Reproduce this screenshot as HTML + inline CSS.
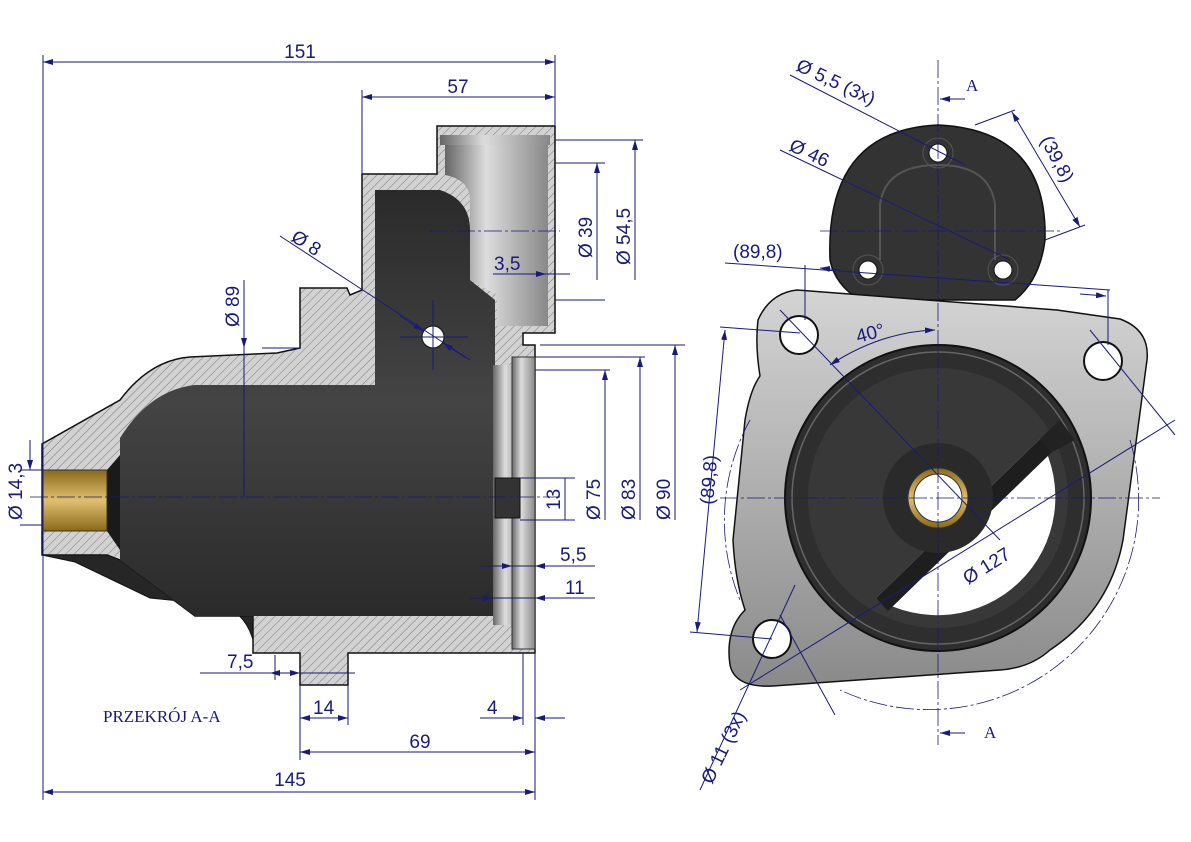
<!DOCTYPE html>
<html><head><meta charset="utf-8"><style>
html,body{margin:0;padding:0;background:#fff}
svg{display:block}
.t{font-family:"Liberation Sans",sans-serif;font-size:19px;fill:#1a1a7a}
.d{stroke:#1a1a7a;stroke-width:1;fill:none}
.c{stroke:#1a1a7a;stroke-width:0.8;fill:none;stroke-dasharray:18 3 3 3}
</style></head><body>
<svg width="1191" height="842" viewBox="0 0 1191 842" xmlns="http://www.w3.org/2000/svg">
<defs>
<pattern id="h" width="6" height="6" patternUnits="userSpaceOnUse" patternTransform="rotate(45)">
<rect width="6" height="6" fill="#d2d2d2"/><line x1="0" y1="0" x2="0" y2="6" stroke="#777" stroke-width="1"/></pattern>
<linearGradient id="dk" x1="0" y1="0" x2="0" y2="1"><stop offset="0" stop-color="#2a2a2a"/><stop offset="0.5" stop-color="#444"/><stop offset="1" stop-color="#2a2a2a"/></linearGradient>
<linearGradient id="lt" x1="0" y1="0" x2="1" y2="0"><stop offset="0" stop-color="#666"/><stop offset="0.4" stop-color="#ddd"/><stop offset="1" stop-color="#888"/></linearGradient>
<linearGradient id="br" x1="0" y1="0" x2="0" y2="1"><stop offset="0" stop-color="#8a6a1a"/><stop offset="0.5" stop-color="#e0c070"/><stop offset="1" stop-color="#8a6a1a"/></linearGradient>
<linearGradient id="pl" x1="0" y1="0" x2="0" y2="1"><stop offset="0" stop-color="#d4d4d4"/><stop offset="1" stop-color="#8a8a8a"/></linearGradient>
<marker id="a" viewBox="0 0 10 6" refX="10" refY="3" markerWidth="10" markerHeight="6" orient="auto-start-reverse"><path d="M0,0L10,3L0,6z" fill="#1a1a7a"/></marker>
</defs>

<!-- LEFT VIEW -->
<path d="M437,126 L555,126 L555,333 L523,333 L523,345 L535,345 L535,653 L348,653 L348,685 L300,685 L300,653 L253,653 L253,616 L195,616 L120,560 L107,555 L42,555 L42,444 L120,400 Q150,360 190,357 L277,353 L300,348 L300,288 L347,288 L350,295 L362,290 L362,174 L437,174 Z" fill="url(#h)" stroke="#111" stroke-width="1.5"/>
<!-- dark lower nose exterior -->
<path d="M42,555 L107,555 L120,560 L195,616 L253,616 L253,640 Q245,612 220,605 L150,598 L75,562 Z" fill="#262626" stroke="#111"/>
<!-- interior chamber -->
<path d="M120,438 Q150,390 195,385 L375,385 L375,190 L440,190 Q470,200 470,230 L470,280 L495,300 L495,385 L495,616 L195,616 L120,560 Z" fill="url(#dk)"/>
<path d="M107,470 L120,455 L120,550 L107,531Z" fill="#1a1a1a"/>
<!-- top bore light -->
<path d="M445,144 L548,144 L548,326 L497,326 L497,295 L470,280 L470,200 Q470,180 445,175Z" fill="url(#lt)"/>
<rect x="440" y="135" width="110" height="10" fill="url(#lt)"/>
<!-- front rings -->
<rect x="493" y="365" width="30" height="260" fill="url(#lt)"/>
<rect x="512" y="357" width="23" height="292" fill="url(#lt)" stroke="#333"/>
<rect x="495" y="478" width="25" height="40" fill="#333" stroke="#111"/>
<!-- bushing -->
<rect x="42" y="470" width="65" height="61" fill="url(#br)" stroke="#333"/>
<circle cx="433" cy="337" r="11" fill="#fff" stroke="#111"/>

<line x1="30" y1="497" x2="560" y2="497" class="c"/>
<line x1="430" y1="231" x2="560" y2="231" class="c"/>
<line x1="433" y1="300" x2="433" y2="370" class="d"/>
<line x1="400" y1="337" x2="468" y2="337" class="d"/>

<line x1="43" y1="55" x2="43" y2="800" class="d"/>
<line x1="555" y1="55" x2="555" y2="126" class="d"/>
<line x1="43" y1="62" x2="555" y2="62" class="d" marker-start="url(#a)" marker-end="url(#a)"/>
<text x="300" y="58" class="t" text-anchor="middle">151</text>
<line x1="362" y1="90" x2="362" y2="174" class="d"/>
<line x1="362" y1="97" x2="555" y2="97" class="d" marker-start="url(#a)" marker-end="url(#a)"/>
<text x="458" y="93" class="t" text-anchor="middle">57</text>
<line x1="555" y1="163" x2="605" y2="163" class="d"/>
<line x1="555" y1="140" x2="643" y2="140" class="d"/>
<line x1="555" y1="300" x2="605" y2="300" class="d"/>
<line x1="597" y1="163" x2="597" y2="280" class="d" marker-start="url(#a)"/>
<line x1="635" y1="140" x2="635" y2="280" class="d" marker-start="url(#a)"/>
<text transform="translate(592,258) rotate(-90)" class="t">Ø 39</text>
<text transform="translate(630,265) rotate(-90)" class="t">Ø 54,5</text>
<line x1="493" y1="274" x2="570" y2="274" class="d"/>
<line x1="525" y1="274" x2="546" y2="274" class="d" marker-end="url(#a)"/>
<text x="494" y="270" class="t">3,5</text>
<line x1="280" y1="236" x2="470" y2="360" class="d"/>
<line x1="400" y1="316" x2="423" y2="331" class="d" marker-end="url(#a)"/>
<line x1="466" y1="358" x2="443" y2="343" class="d" marker-end="url(#a)"/>
<text transform="translate(290,240) rotate(33)" class="t">Ø 8</text>
<line x1="244" y1="280" x2="244" y2="497" class="d"/>
<line x1="244" y1="325" x2="244" y2="348" class="d" marker-end="url(#a)"/>
<line x1="262" y1="348" x2="300" y2="348" class="d"/>
<text transform="translate(239,327) rotate(-90)" class="t">Ø 89</text>
<line x1="20" y1="470" x2="42" y2="470" class="d"/>
<line x1="20" y1="525" x2="42" y2="525" class="d"/>
<line x1="30" y1="440" x2="30" y2="470" class="d" marker-end="url(#a)"/>
<text transform="translate(22,520) rotate(-90)" class="t">Ø 14,3</text>
<line x1="520" y1="478" x2="575" y2="478" class="d"/><line x1="520" y1="520" x2="575" y2="520" class="d"/>
<line x1="565" y1="478" x2="565" y2="520" class="d"/>
<text transform="translate(560,510) rotate(-90)" class="t">13</text>
<line x1="535" y1="370" x2="610" y2="370" class="d"/>
<line x1="605" y1="370" x2="605" y2="520" class="d" marker-start="url(#a)"/>
<text transform="translate(600,520) rotate(-90)" class="t">Ø 75</text>
<line x1="535" y1="357" x2="645" y2="357" class="d"/>
<line x1="640" y1="357" x2="640" y2="520" class="d" marker-start="url(#a)"/>
<text transform="translate(635,520) rotate(-90)" class="t">Ø 83</text>
<line x1="540" y1="345" x2="685" y2="345" class="d"/>
<line x1="675" y1="345" x2="675" y2="520" class="d" marker-start="url(#a)"/>
<text transform="translate(670,520) rotate(-90)" class="t">Ø 90</text>
<line x1="480" y1="566" x2="595" y2="566" class="d"/>
<line x1="500" y1="566" x2="512" y2="566" class="d" marker-end="url(#a)"/>
<line x1="560" y1="566" x2="535" y2="566" class="d" marker-end="url(#a)"/>
<text x="560" y="561" class="t">5,5</text>
<line x1="470" y1="598" x2="595" y2="598" class="d"/>
<line x1="470" y1="598" x2="493" y2="598" class="d" marker-end="url(#a)"/>
<line x1="560" y1="598" x2="535" y2="598" class="d" marker-end="url(#a)"/>
<text x="565" y="594" class="t">11</text>
<line x1="200" y1="673" x2="355" y2="673" class="d"/>
<line x1="275" y1="655" x2="275" y2="680" class="d"/>
<line x1="270" y1="673" x2="300" y2="673" class="d" marker-start="url(#a)" marker-end="url(#a)"/>
<text x="227" y="668" class="t">7,5</text>
<line x1="300" y1="685" x2="300" y2="760" class="d"/>
<line x1="348" y1="685" x2="348" y2="725" class="d"/>
<line x1="300" y1="718" x2="348" y2="718" class="d" marker-start="url(#a)" marker-end="url(#a)"/>
<text x="313" y="714" class="t">14</text>
<line x1="523" y1="653" x2="523" y2="725" class="d"/>
<line x1="535" y1="653" x2="535" y2="800" class="d"/>
<line x1="480" y1="718" x2="523" y2="718" class="d" marker-end="url(#a)"/>
<line x1="565" y1="718" x2="535" y2="718" class="d" marker-end="url(#a)"/>
<text x="487" y="714" class="t">4</text>
<line x1="300" y1="752" x2="535" y2="752" class="d" marker-start="url(#a)" marker-end="url(#a)"/>
<text x="420" y="748" class="t" text-anchor="middle">69</text>
<line x1="43" y1="792" x2="535" y2="792" class="d" marker-start="url(#a)" marker-end="url(#a)"/>
<text x="290" y="786" class="t" text-anchor="middle">145</text>
<text x="103" y="722" style="font-family:'Liberation Serif',serif;font-size:17px;fill:#1a1a7a">PRZEKRÓJ A-A</text>

<!-- RIGHT VIEW -->
<path d="M830,260 Q825,130 938,125 Q1048,130 1045,240 Q1040,280 1015,300 L860,300 Q835,285 830,260Z" fill="#333" stroke="#111" stroke-width="1.5"/>
<path d="M880,260 L880,205 Q885,165 938,165 Q990,165 995,205 L995,260" fill="none" stroke="#555" stroke-width="2"/>
<circle cx="938" cy="153" r="9" fill="#fff" stroke="#111"/><circle cx="938" cy="153" r="15" fill="none" stroke="#555"/>
<circle cx="868" cy="270" r="9" fill="#fff" stroke="#111"/><circle cx="868" cy="270" r="15" fill="none" stroke="#555"/>
<circle cx="1003" cy="270" r="9" fill="#fff" stroke="#111"/><circle cx="1003" cy="270" r="15" fill="none" stroke="#555"/>
<path d="M797,290 L1057,310 L1120,319 Q1150,330 1147,360 L1123,540 Q1110,610 1050,650 Q1030,668 1000,670 L773,686 Q735,688 730,665 Q725,630 745,610 Q735,580 733,540 L745,420 Q750,390 760,376 Q755,345 758,320 Q770,293 797,290Z" fill="url(#pl)" stroke="#111" stroke-width="1.5"/>
<circle cx="799" cy="335" r="19" fill="#fff" stroke="#111" stroke-width="2"/>
<circle cx="1103" cy="361" r="19" fill="#fff" stroke="#111" stroke-width="2"/>
<circle cx="772" cy="639" r="19" fill="#fff" stroke="#111" stroke-width="2"/>
<circle cx="938" cy="498" r="153" fill="#2e2e2e" stroke="#111" stroke-width="2"/>
<circle cx="938" cy="498" r="146" fill="none" stroke="#666" stroke-width="1.5"/>
<circle cx="938" cy="498" r="130" fill="#383838"/>
<path d="M1040,439 A118,118 0 0 1 876,598 Z" fill="#fff"/>
<path d="M876,598 L1040,439 L1052,452 L888,611Z" fill="#1e1e1e"/>
<path d="M1040,439 L1060,420 L1075,440 L1052,452Z" fill="#222"/>
<circle cx="938" cy="498" r="55" fill="#2a2a2a"/>
<circle cx="938" cy="498" r="30" fill="url(#br)" stroke="#333"/>
<circle cx="938" cy="498" r="24" fill="#fff" stroke="#333"/>

<line x1="938" y1="60" x2="938" y2="745" class="c"/>
<line x1="720" y1="498" x2="1160" y2="498" class="c"/>
<line x1="820" y1="231" x2="1060" y2="231" class="c"/>
<path d="M1130,440 A210,210 0 0 1 840,690" class="c"/>
<path d="M750,420 A210,210 0 0 0 740,600" class="c"/>
<line x1="965" y1="99" x2="940" y2="99" class="d" marker-end="url(#a)"/>
<text x="966" y="91" style="font-family:'Liberation Serif',serif;font-size:17px;fill:#1a1a7a">A</text>
<line x1="965" y1="733" x2="940" y2="733" class="d" marker-end="url(#a)"/>
<text x="984" y="738" style="font-family:'Liberation Serif',serif;font-size:17px;fill:#1a1a7a">A</text>
<line x1="790" y1="75" x2="965" y2="165" class="d"/>
<text transform="translate(795,70) rotate(25)" class="t">Ø 5,5 (3x)</text>
<line x1="780" y1="150" x2="1010" y2="260" class="d"/>
<text transform="translate(788,150) rotate(25)" class="t">Ø 46</text>
<line x1="975" y1="125" x2="1015" y2="110" class="d"/>
<line x1="1045" y1="240" x2="1085" y2="225" class="d"/>
<line x1="1012" y1="112" x2="1080" y2="227" class="d" marker-start="url(#a)" marker-end="url(#a)"/>
<text transform="translate(1040,140) rotate(62)" class="t">(39,8)</text>
<line x1="725" y1="263" x2="1110" y2="290" class="d"/>
<line x1="805" y1="265" x2="805" y2="320" class="d"/>
<line x1="1108" y1="290" x2="1108" y2="345" class="d"/>
<line x1="840" y1="270" x2="820" y2="268" class="d" marker-end="url(#a)"/>
<line x1="1080" y1="294" x2="1106" y2="296" class="d" marker-end="url(#a)"/>
<text x="733" y="258" class="t">(89,8)</text>
<path d="M830,365 Q880,332 935,330" class="d" marker-start="url(#a)" marker-end="url(#a)"/>
<text transform="translate(858,343) rotate(-15)" class="t">40°</text>
<line x1="720" y1="327" x2="800" y2="333" class="d"/>
<line x1="690" y1="632" x2="772" y2="639" class="d"/>
<line x1="725" y1="330" x2="697" y2="632" class="d" marker-start="url(#a)" marker-end="url(#a)"/>
<text transform="translate(713,505) rotate(-85)" class="t">(89,8)</text>
<line x1="780" y1="310" x2="1000" y2="540" class="d"/>
<line x1="740" y1="690" x2="1175" y2="420" class="d"/>
<text transform="translate(968,585) rotate(-32)" class="t">Ø 127</text>
<line x1="1090" y1="330" x2="1175" y2="435" class="d"/>
<line x1="780" y1="615" x2="835" y2="715" class="d"/>
<line x1="795" y1="585" x2="700" y2="790" class="d"/>
<text transform="translate(712,785) rotate(-64)" class="t">Ø 11 (3x)</text>
</svg>
</body></html>
